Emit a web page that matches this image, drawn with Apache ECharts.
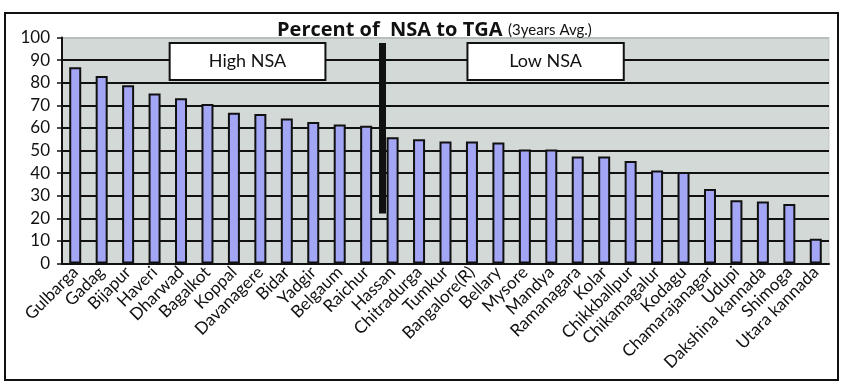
<!DOCTYPE html>
<html>
<head>
<meta charset="utf-8">
<script src="https://cdn.jsdelivr.net/npm/echarts@6/dist/echarts.min.js"></script>
<style>
html,body{margin:0;padding:0;background:#fff;}
#chart{width:850px;height:392px;}
</style>
</head>
<body>
<div id="chart"></div>
<script>
const districts = ['Gulbarga','Gadag','Bijapur','Haveri','Dharwad','Bagalkot','Koppal','Davanagere','Bidar','Yadgir','Belgaum','Raichur','Hassan','Chitradurga','Tumkur','Bangalore(R)','Bellary','Mysore','Mandya','Ramanagara','Kolar','Chikkballpur','Chikamagalur','Kodagu','Chamarajanagar','Udupi','Dakshina kannada','Shimoga','Utara kannada'];
const nsaPercent = [86.8,83.0,78.9,75.2,73.1,70.6,66.7,66.2,64.2,62.6,61.5,61.0,55.9,55.0,54.0,54.0,53.5,50.4,50.4,47.4,47.4,45.3,41.1,40.5,33.0,28.0,27.4,26.3,10.9];
const yTicks = [0,10,20,30,40,50,60,70,80,90,100];
const groupLabels = ['High NSA','Low NSA'];
const titleMain = 'Percent of  NSA to TGA';
const titleSub = '(3years Avg.)';

const FONT = 'Lato, "Noto Sans", sans-serif';
const chart = echarts.init(document.getElementById('chart'), null, {renderer:'canvas'});
const splitColors = yTicks.map((v,i)=> i === yTicks.length-1 ? '#b9bebd' : '#111');

chart.setOption({
  animation:false,
  backgroundColor:'#fff',
  title:{
    text:'{b|' + titleMain + '} {s|' + titleSub + '}',
    left:272, top:15,
    textStyle:{
      fontSize:20,
      rich:{
        b:{fontFamily:'"Open Sans", Lato, sans-serif',fontWeight:'bold',fontSize:20,color:'#111'},
        s:{fontFamily:FONT,fontWeight:'normal',fontSize:15,color:'#111'}
      }
    }
  },
  graphic:[{
    type:'rect', silent:true, z:-1,
    shape:{x:5,y:13,width:833,height:367},
    style:{fill:'none',stroke:'#111',lineWidth:2}
  }],
  grid:{left:62,right:21,top:37.5,bottom:128.5,show:true,backgroundColor:'#d3d9d7',borderColor:'#c4c9c8',borderWidth:1},
  xAxis:[{
    type:'category',
    data:districts,
    axisLine:{lineStyle:{color:'#111',width:2}},
    axisTick:{length:5,lineStyle:{color:'#111',width:1.5}},
    axisLabel:{interval:0,rotate:45,margin:6,fontFamily:FONT,fontSize:17,color:'#111'}
  },{
    type:'value', min:0, max:districts.length, show:false
  }],
  yAxis:{
    type:'value', min:0, max:100, interval:10,
    axisLine:{show:true,lineStyle:{color:'#111',width:2}},
    axisTick:{show:true,length:5,lineStyle:{color:'#111',width:1.5}},
    axisLabel:{fontFamily:FONT,fontSize:17,color:'#111',margin:12},
    splitLine:{lineStyle:{color:splitColors,width:2}}
  },
  series:[{
    type:'bar',
    data:nsaPercent,
    barWidth:12,
    itemStyle:{color:'#a3a6f4',borderColor:'#111',borderWidth:2},
    z:3
  },{
    type:'scatter',
    xAxisIndex:1,
    data:[],
    z:4,
    markArea:{
      silent:true,
      itemStyle:{color:'#fff',borderColor:'#111',borderWidth:2,opacity:1},
      label:{show:true,position:'inside',fontFamily:FONT,fontSize:18,color:'#111'},
      emphasis:{disabled:true},
      data:[
        [{name:groupLabels[0],coord:[4.07,97.6]},{coord:[9.96,81.2]}],
        [{name:groupLabels[1],coord:[15.33,97.6]},{coord:[21.24,81.2]}]
      ]
    },
    markLine:{
      silent:true,
      symbol:['none','none'],
      label:{show:false},
      lineStyle:{color:'#111',width:7,type:'solid'},
      emphasis:{disabled:true},
      data:[[{coord:[12.12,22.1]},{coord:[12.12,97.6]}]]
    }
  }]
});
</script>
</body>
</html>
